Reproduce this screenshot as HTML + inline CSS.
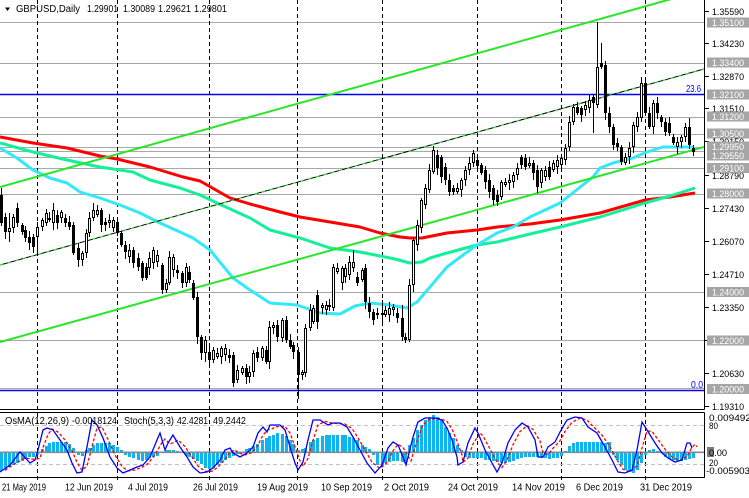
<!DOCTYPE html>
<html><head><meta charset="utf-8"><style>
html,body{margin:0;padding:0;background:#fff;}
svg{display:block;}
text{font-family:"Liberation Sans",Arial,sans-serif;}
</style></head><body>
<svg id="c" width="749" height="498" viewBox="0 0 749 498" xmlns="http://www.w3.org/2000/svg">
<rect width="749" height="498" fill="#fff"/>
<defs>
<clipPath id="mainclip"><rect x="0" y="0" width="704" height="409"/></clipPath>
<clipPath id="oscclip"><rect x="0" y="412" width="704" height="65"/></clipPath>
</defs>

<!-- horizontal level lines -->
<g stroke="#a8a8a8" stroke-width="1" shape-rendering="crispEdges">
<line x1="0" y1="22.5" x2="704" y2="22.5"/>
<line x1="0" y1="63.5" x2="704" y2="63.5"/>
<line x1="0" y1="117.5" x2="704" y2="117.5"/>
<line x1="0" y1="134.5" x2="704" y2="134.5"/>
<line x1="0" y1="147.5" x2="704" y2="147.5"/>
<line x1="0" y1="151.5" x2="704" y2="151.5"/>
<line x1="0" y1="157.5" x2="704" y2="157.5"/>
<line x1="0" y1="168.5" x2="704" y2="168.5"/>
<line x1="0" y1="194.5" x2="704" y2="194.5"/>
<line x1="0" y1="292.5" x2="704" y2="292.5"/>
<line x1="0" y1="340.5" x2="704" y2="340.5"/>
<line x1="0" y1="388.5" x2="704" y2="388.5"/>
</g>
<line x1="0" y1="94.5" x2="704" y2="94.5" stroke="#0000ff" stroke-width="1.6"/>
<line x1="0" y1="390.5" x2="704" y2="390.5" stroke="#0000ff" stroke-width="1.4"/>
<text x="686" y="92" font-size="10" fill="#0000ff" textLength="15" lengthAdjust="spacingAndGlyphs">23.6</text>
<text x="691" y="388" font-size="10" fill="#0000ff" textLength="12" lengthAdjust="spacingAndGlyphs">0.0</text>

<!-- vertical dashed grid -->
<g stroke="#000" stroke-width="1" stroke-dasharray="4,3" shape-rendering="crispEdges">
<line x1="37.5" y1="0" x2="37.5" y2="481"/>
<line x1="117.5" y1="0" x2="117.5" y2="481"/>
<line x1="209.5" y1="0" x2="209.5" y2="481"/>
<line x1="297.5" y1="0" x2="297.5" y2="481"/>
<line x1="382.5" y1="0" x2="382.5" y2="481"/>
<line x1="477.5" y1="0" x2="477.5" y2="481"/>
<line x1="561.5" y1="0" x2="561.5" y2="481"/>
<line x1="645.5" y1="0" x2="645.5" y2="481"/>
</g>

<g clip-path="url(#mainclip)">
<!-- moving averages -->
<polyline fill="none" stroke="#ff0000" stroke-width="3" stroke-linejoin="round" points="0,137 33,143 67,148 100,156 117,159 150,167 183,177 200,181 230,198 250,204 280,212 300,217 330,222 360,227 380,233 400,237 410,238 422,238 447,233 477,230 497,227 530,224 560,220 600,213 645,200 670,197 695,193"/>
<polyline fill="none" stroke="#14f09a" stroke-width="3" stroke-linejoin="round" points="0,143 33,152 67,160 100,167 133,172 150,180 180,188 200,195 217,203 250,218 270,230 300,238 330,248 360,252 380,256 395,259 410,263 422,262 430,258 447,253 477,245 497,242 530,234 560,227 600,217 645,203 670,196 695,188"/>
<polyline fill="none" stroke="#33e8f8" stroke-width="3" stroke-linejoin="round" points="0,148 17,158 33,170 50,178 67,183 80,192 100,198 120,205 140,213 160,223 180,232 193,238 210,250 233,278 250,290 270,303 297,305 320,313 340,314 355,306 370,303 390,305 407,308 417,302 430,287 447,267 463,255 477,245 497,233 513,227 530,217 560,203 593,177 600,168 613,163 633,158 647,152 663,147 693,147"/>

<!-- channel lines -->
<line x1="0" y1="187" x2="690" y2="-6.2" stroke="#28e628" stroke-width="2"/>
<line x1="0" y1="342" x2="704" y2="147" stroke="#28e628" stroke-width="2"/>
<line x1="0" y1="265" x2="704" y2="69" stroke="#000" stroke-width="1"/>
<line x1="0" y1="265" x2="704" y2="69" stroke="#28e628" stroke-width="1.2" stroke-dasharray="3,5"/>

<g id="candles"></g>
</g>

<!-- oscillator -->
<g clip-path="url(#oscclip)">
<line x1="0" y1="425.5" x2="704" y2="425.5" stroke="#c0c0c0" stroke-width="1" stroke-dasharray="4,3"/>
<line x1="0" y1="464.5" x2="704" y2="464.5" stroke="#c0c0c0" stroke-width="1" stroke-dasharray="4,3"/>
<g id="hist" fill="#0cb4f0"></g>
<line x1="0" y1="452.3" x2="704" y2="452.3" stroke="#808890" stroke-width="1.6"/>
<polyline id="sig" fill="none" stroke="#ff0000" stroke-width="1.3" stroke-dasharray="3,2"/>
<polyline id="stoch" fill="none" stroke="#0000ff" stroke-width="1.3" points="0,472 10,465 20,452 30,463 35,460 38,450 43,430 47,428 53,430 60,440 67,450 72,463 77,473 82,472 87,447 92,420 97,425 103,438 110,457 117,468 123,473 130,470 137,467 143,465 150,457 157,440 160,433 165,450 168,443 173,435 180,447 187,457 193,467 200,473 207,472 213,468 220,460 225,450 230,448 233,453 240,457 247,453 253,447 258,433 263,427 267,432 270,425 280,425 285,430 290,447 295,463 298,470 303,462 308,440 313,420 320,420 328,425 333,423 340,423 347,427 353,437 360,450 367,463 375,473 382,465 388,448 393,442 398,445 403,457 406,465 408,457 413,437 418,422 425,418 435,418 442,420 447,428 452,440 457,457 458,465 463,462 468,443 475,428 478,433 485,450 492,463 497,472 502,463 508,443 515,430 522,423 528,427 535,440 538,457 543,457 548,447 555,442 560,432 567,420 575,417 582,418 588,427 597,433 605,447 612,460 618,472 625,473 632,470 637,450 642,422 647,430 655,443 662,453 668,458 675,462 682,460 687,443 690,443 692,448"/>
</g>

<!-- borders -->
<g stroke="#000" stroke-width="1" shape-rendering="crispEdges">
<line x1="704.5" y1="0" x2="704.5" y2="409.5"/>
<line x1="0" y1="409.5" x2="704.5" y2="409.5"/>
<line x1="0" y1="412.5" x2="704.5" y2="412.5"/>
<line x1="0" y1="477.5" x2="704.5" y2="477.5"/>
<line x1="704.5" y1="412.5" x2="704.5" y2="477.5"/>
</g>

<!-- header -->
<polygon points="5,7.5 10,7.5 7.5,11" fill="#000"/>
<g font-size="10" fill="#000">
<text x="16" y="12" textLength="64" lengthAdjust="spacingAndGlyphs">GBPUSD,Daily</text>
<text x="87" y="12" textLength="31" lengthAdjust="spacingAndGlyphs">1.29901</text>
<text x="123" y="12" textLength="32" lengthAdjust="spacingAndGlyphs">1.30089</text>
<text x="158" y="12" textLength="33" lengthAdjust="spacingAndGlyphs">1.29621</text>
<text x="194" y="12" textLength="33" lengthAdjust="spacingAndGlyphs">1.29801</text>
</g>
<g font-size="10" fill="#000">
<text x="5" y="424" textLength="64" lengthAdjust="spacingAndGlyphs">OsMA(12,26,9)</text>
<text x="72" y="424" textLength="45" lengthAdjust="spacingAndGlyphs">-0.0018124</text>
<text x="124" y="424" textLength="50" lengthAdjust="spacingAndGlyphs">Stoch(5,3,3)</text>
<text x="177" y="424" textLength="31" lengthAdjust="spacingAndGlyphs">42.4281</text>
<text x="213" y="424" textLength="33" lengthAdjust="spacingAndGlyphs">49.2442</text>
</g>

<!-- right axis black ticks -->
<g stroke="#000" stroke-width="1" shape-rendering="crispEdges">
<line x1="704" y1="11.5" x2="709" y2="11.5"/>
<line x1="704" y1="43.5" x2="709" y2="43.5"/>
<line x1="704" y1="76.5" x2="709" y2="76.5"/>
<line x1="704" y1="108.5" x2="709" y2="108.5"/>
<line x1="704" y1="141.5" x2="709" y2="141.5"/>
<line x1="704" y1="175.5" x2="709" y2="175.5"/>
<line x1="704" y1="208.5" x2="709" y2="208.5"/>
<line x1="704" y1="241.5" x2="709" y2="241.5"/>
<line x1="704" y1="274.5" x2="709" y2="274.5"/>
<line x1="704" y1="307.5" x2="709" y2="307.5"/>
<line x1="704" y1="340.5" x2="709" y2="340.5"/>
<line x1="704" y1="373.5" x2="709" y2="373.5"/>
<line x1="704" y1="406.5" x2="709" y2="406.5"/>
</g>
<g font-size="9.5" fill="#000">
<text x="712" y="15" textLength="32" lengthAdjust="spacingAndGlyphs">1.35590</text>
<text x="712" y="47" textLength="32" lengthAdjust="spacingAndGlyphs">1.34230</text>
<text x="712" y="80" textLength="32" lengthAdjust="spacingAndGlyphs">1.32870</text>
<text x="712" y="112" textLength="32" lengthAdjust="spacingAndGlyphs">1.31510</text>
<text x="712" y="145" textLength="32" lengthAdjust="spacingAndGlyphs">1.30150</text>
<text x="712" y="179" textLength="32" lengthAdjust="spacingAndGlyphs">1.28790</text>
<text x="712" y="212" textLength="32" lengthAdjust="spacingAndGlyphs">1.27430</text>
<text x="712" y="245" textLength="32" lengthAdjust="spacingAndGlyphs">1.26070</text>
<text x="712" y="278" textLength="32" lengthAdjust="spacingAndGlyphs">1.24710</text>
<text x="712" y="311" textLength="32" lengthAdjust="spacingAndGlyphs">1.23350</text>
<text x="712" y="344" textLength="32" lengthAdjust="spacingAndGlyphs">1.21990</text>
<text x="712" y="377" textLength="32" lengthAdjust="spacingAndGlyphs">1.20630</text>
<text x="712" y="410" textLength="32" lengthAdjust="spacingAndGlyphs">1.19310</text>
</g>

<!-- gray level labels -->
<g id="glabels" font-size="9.5"></g>

<!-- oscillator axis labels -->
<rect x="707" y="447" width="7" height="10" fill="#7a7a7a"/>
<g font-size="9.5" fill="#000">
<text x="709" y="421" textLength="42" lengthAdjust="spacingAndGlyphs">0.009492</text>
<text x="709" y="429" textLength="9" lengthAdjust="spacingAndGlyphs">80</text>
<text x="709" y="456" textLength="18" lengthAdjust="spacingAndGlyphs">0.00</text>
<text x="709" y="466" textLength="9" lengthAdjust="spacingAndGlyphs">20</text>
<text x="706" y="474" textLength="44" lengthAdjust="spacingAndGlyphs">-0.005903</text>
</g>

<!-- date labels -->
<g font-size="10" fill="#000">
<text x="2" y="490.5" textLength="44" lengthAdjust="spacingAndGlyphs">21 May 2019</text>
<text x="65" y="490.5" textLength="48" lengthAdjust="spacingAndGlyphs">12 Jun 2019</text>
<text x="128" y="490.5" textLength="40" lengthAdjust="spacingAndGlyphs">4 Jul 2019</text>
<text x="193" y="490.5" textLength="45" lengthAdjust="spacingAndGlyphs">26 Jul 2019</text>
<text x="257" y="490.5" textLength="51" lengthAdjust="spacingAndGlyphs">19 Aug 2019</text>
<text x="321" y="490.5" textLength="51" lengthAdjust="spacingAndGlyphs">10 Sep 2019</text>
<text x="384" y="490.5" textLength="45" lengthAdjust="spacingAndGlyphs">2 Oct 2019</text>
<text x="448" y="490.5" textLength="50" lengthAdjust="spacingAndGlyphs">24 Oct 2019</text>
<text x="512" y="490.5" textLength="53" lengthAdjust="spacingAndGlyphs">14 Nov 2019</text>
<text x="576" y="490.5" textLength="47" lengthAdjust="spacingAndGlyphs">6 Dec 2019</text>
<text x="640" y="490.5" textLength="52" lengthAdjust="spacingAndGlyphs">31 Dec 2019</text>
</g>
</svg>
<script>
(function(){
var NS="http://www.w3.org/2000/svg";
var C=[[1,195,223,0,188,226],[5,217,232,0],[9,228,232,1,213,242],[13,217,228,1],[17,208,223,0,203,0],[22,225,232,0],[25,230,238,0,0,242],[29,237,243,0],[33,237,247,0,0,253],[37,227,237,1,0,253],[42,220,227,1],[46,213,223,1],[49,218,220,1],[53,210,223,1,203,0],[57,215,223,0],[61,212,218,1],[65,218,223,0],[69,222,227,0],[73,225,253,0,222,0],[78,248,260,0,0,267],[82,253,260,1],[86,233,253,1],[89,218,233,1],[93,210,218,1,203,0],[97,210,215,1],[101,210,225,0],[105,222,225,0],[109,220,223,1],[113,220,228,1],[117,222,233,0],[121,233,245,0],[125,245,252,0],[129,250,257,1],[133,250,263,0],[138,258,267,0],[142,263,278,0],[146,267,278,0],[149,258,268,1],[153,250,263,1],[157,255,262,1],[162,265,290,0],[166,283,290,1],[169,257,283,1],[173,257,270,1],[177,270,273,0],[182,273,283,0],[186,267,283,1],[189,272,280,0],[193,283,298,0],[197,297,337,0],
[201,337,353,0,0,360],[205,340,353,1,0,362],[209,352,360,0],[213,350,360,1],[217,353,357,1],[221,348,357,1],[225,348,355,1],[229,355,358,0],[233,355,383,0],[237,370,380,1],[242,368,373,1],[246,368,377,0],[249,372,377,1],[253,353,372,1],[257,352,358,0],[262,348,358,1],[266,350,362,0],[269,327,362,1],[273,325,328,1],[277,325,337,0],[282,320,338,1],[286,320,340,0],[290,340,347,0],[293,345,352,0],[298,352,375,0,0,399],[302,372,375,1],[305,328,373,1],[310,310,328,1],[313,308,322,1],[317,295,322,0],[322,305,308,1],[326,305,310,1],[329,305,307,1],[333,267,308,1],[337,268,272,1],[342,268,283,1],[345,268,277,1],[349,262,275,1],[353,262,268,1,250,0],[357,277,283,0],[362,270,280,1],[365,268,302,0],[369,303,312,0],[373,312,320,0],[377,313,315,0],[382,313,315,1,300,325],[385,310,315,1],[389,308,315,1],[393,307,310,1],[397,313,318,0],[402,318,337,0,305,0],[405,337,340,0],[409,285,340,1],[413,240,285,1],[417,225,245,1],[421,200,228,1],[425,188,205,1],[429,170,190,1],[433,150,172,1,146,0],[437,155,168,0],[441,157,177,0],[445,167,180,0],[449,180,192,0],[453,188,192,0],[457,188,192,1],[461,180,190,1],[465,170,180,1],[469,163,170,1],[473,153,163,1],[477,160,166,0],[481,165,173,0],[485,170,182,0],[489,180,192,0],[493,188,200,0],[497,195,202,0],[501,182,197,1],[505,182,185,1],[509,180,183,1],[513,175,182,1],[517,168,175,1],[521,157,165,0],[525,158,167,0],[529,163,166,1],[533,163,173,0],[537,170,187,0],[541,170,183,1],[545,170,177,1],[549,167,177,0],[553,163,170,1],[557,160,167,1],[561,158,165,1],[565,148,160,1],[569,122,147,1],[573,107,122,1],[577,107,113,0],[581,108,115,0],[585,105,110,1],[589,100,108,1],[593,97,103,0,0,133],[597,67,105,1,22,0],[601,63,67,0,43,0],[605,65,113,0],[609,113,127,0],[613,127,145,0],[617,143,147,0],[621,147,162,0],[625,157,163,1],[629,148,157,1],[633,125,147,1],[637,117,127,1],[641,83,118,1,77,0],[645,83,113,0],[649,113,127,0],[653,103,127,1],[657,103,113,0,97,0],[661,117,122,0],[665,122,132,0],[669,123,133,0],[673,137,143,0],[677,142,147,1],[681,137,142,1],[685,127,137,1],[689,127,145,0,118,0],[693,148,152,0,0,156]];
var wick="",blk="",wht="";
for(var i=0;i<C.length;i++){
 var c=C[i],x=c[0],t=c[1],b=c[2],bull=c[3],hi=c[4]||0,lo=c[5]||0;
 if(b-t<1)b=t+1;
 if(!hi)hi=t-(2+(i*7)%5);
 if(!lo)lo=b+(2+(i*5)%6);
 wick+="M"+(x+0.5)+" "+hi+"V"+lo;
 if(bull){
   if(b-t<2){blk+="M"+(x-1)+" "+t+"h3v1h-3z";}
   else wht+="M"+(x-0.5)+" "+(t+0.5)+"h2v"+(b-t-1)+"h-2z";
 } else blk+="M"+(x-1)+" "+t+"h3v"+(b-t)+"h-3z";
}
var g=document.getElementById("candles");
function P(d,attrs){var p=document.createElementNS(NS,"path");p.setAttribute("d",d);for(var k in attrs)p.setAttribute(k,attrs[k]);g.appendChild(p);}
P(wick,{stroke:"#000","stroke-width":"1",fill:"none","shape-rendering":"crispEdges"});
P(blk,{fill:"#000","shape-rendering":"crispEdges"});
P(wht,{fill:"#fff",stroke:"#000","stroke-width":"1","shape-rendering":"crispEdges"});

// histogram
var H=[[0,472],[10,466],[17,463],[23,460],[27,457],[33,457],[37,455],[40,450],[45,447],[48,443],[55,442],[65,442],[68,443],[72,447],[75,450],[78,455],[82,456],[86,450],[90,447],[95,443],[110,443],[113,445],[117,447],[121,450],[125,455],[130,457],[135,459],[140,461],[145,460],[150,458],[155,456],[160,455],[165,450],[175,450],[180,452],[185,455],[190,458],[195,460],[200,463],[207,470],[213,468],[217,465],[223,462],[228,458],[235,455],[240,453],[245,450],[250,447],[255,445],[260,442],[265,438],[272,435],[278,433],[283,434],[288,437],[292,442],[295,447],[298,450],[302,449],[305,448],[310,442],[315,438],[320,437],[325,435],[345,435],[350,437],[355,438],[360,443],[365,447],[370,450],[373,455],[377,465],[382,465],[385,463],[390,462],[395,460],[400,462],[405,463],[408,447],[412,440],[413,438],[417,430],[421,425],[425,420],[429,417],[433,415],[437,417],[441,420],[445,427],[449,433],[453,438],[457,445],[461,450],[464,457],[470,458],[480,458],[485,460],[490,460],[495,462],[500,463],[505,463],[510,462],[515,460],[520,458],[525,457],[535,457],[545,458],[550,459],[555,458],[560,457],[564,452],[568,447],[572,443],[576,442],[600,442],[605,443],[610,442],[613,455],[617,460],[621,465],[625,470],[629,472],[633,473],[637,470],[640,465],[644,456],[648,450],[652,449],[656,450],[660,452],[664,456],[668,458],[672,460],[676,461],[680,461],[684,460],[688,459],[694,458]];
function interp(x){
 if(x<=H[0][0])return H[0][1];
 for(var j=1;j<H.length;j++){if(x<=H[j][0]){var a=H[j-1],b=H[j];return a[1]+(b[1]-a[1])*(x-a[0])/(b[0]-a[0]);}}
 return H[H.length-1][1];
}
var hd="";
for(var k=0;k<C.length;k++){
 var x=C[k][0],y=Math.round(interp(x));var base=452;
 var t=Math.min(y,base),h=Math.abs(y-base);if(h<1)h=1;
 hd+="M"+(x-1)+" "+t+"h3v"+h+"h-3z";
}
var hp=document.createElementNS(NS,"path");hp.setAttribute("d",hd);hp.setAttribute("shape-rendering","crispEdges");
document.getElementById("hist").appendChild(hp);

// signal line
var pts=document.getElementById("stoch").getAttribute("points").trim().split(/\s+/).map(function(s){var a=s.split(",");return [+a[0],+a[1]];});
var sp=[];
for(var m=0;m<pts.length;m++){
 var p0=pts[Math.max(0,m-1)],p1=pts[m],p2=pts[Math.min(pts.length-1,m+1)];
 sp.push((p1[0]+5)+","+((p0[1]+2*p1[1]+p2[1])/4).toFixed(1));
}
document.getElementById("sig").setAttribute("points",sp.join(" "));

// gray labels
var L=[["1.35100",22.5],["1.33400",62.5],["1.32100",94.5],["1.31200",116.5],["1.30500",133.5],["1.29950",146.5],["1.29550",155.5],["1.29100",168],["1.28000",193.5],["1.24000",292],["1.22000",340.5],["1.20000",389]];
var gl=document.getElementById("glabels");
L.forEach(function(l){
 var r=document.createElementNS(NS,"rect");r.setAttribute("x","707");r.setAttribute("y",String(l[1]-5));r.setAttribute("width","42");r.setAttribute("height","10");r.setAttribute("fill","#a6a6a6");gl.appendChild(r);
 var t=document.createElementNS(NS,"text");t.setAttribute("x","712");t.setAttribute("y",String(l[1]+3.5));t.setAttribute("fill","#fff");t.setAttribute("textLength","32");t.setAttribute("lengthAdjust","spacingAndGlyphs");t.textContent=l[0];gl.appendChild(t);
});
})();
</script>
</body></html>
